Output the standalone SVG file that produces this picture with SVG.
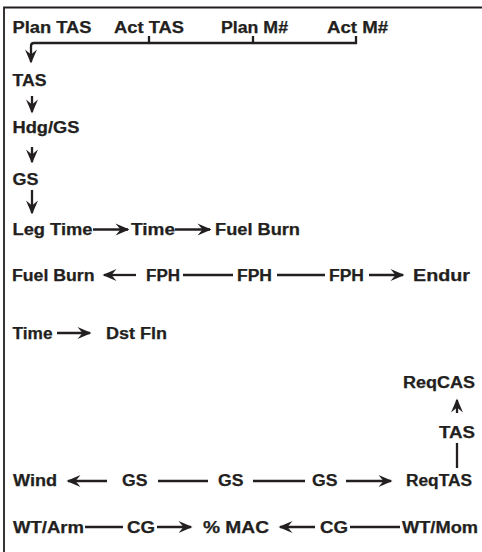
<svg xmlns="http://www.w3.org/2000/svg" width="482" height="552" viewBox="0 0 482 552">
<style>
text{font-family:"Liberation Sans",Arial,sans-serif;font-weight:bold;font-size:16px;fill:#231f20;stroke:#231f20;stroke-width:0.25}
.c{stroke:#231f20;stroke-width:2.3;fill:none}
.f{stroke:#231f20;stroke-width:1.8;fill:none}
</style>
<defs>
<marker id="ah" viewBox="-16 -7 17 14" refX="-1.5" refY="0" markerWidth="17" markerHeight="14" markerUnits="userSpaceOnUse" orient="auto">
<path d="M0,0 L-14,-6 L-9,0 L-14,6 Z" fill="#231f20"/>
</marker>
</defs>
<rect width="482" height="552" fill="#fff"/>
<g id="frame"><path class="f" d="M4,552 V7.5 H482"/></g>

<g id="n-plantas"><text x="12.5" y="33" textLength="79" lengthAdjust="spacingAndGlyphs">Plan TAS</text></g>
<g id="n-acttas"><text x="114" y="33" textLength="70" lengthAdjust="spacingAndGlyphs">Act TAS</text></g>
<g id="n-planm"><text x="221" y="33" textLength="67" lengthAdjust="spacingAndGlyphs">Plan M#</text></g>
<g id="n-actm"><text x="327" y="33" textLength="61" lengthAdjust="spacingAndGlyphs">Act M#</text></g>
<g id="n-tas"><text x="12.5" y="86" textLength="34" lengthAdjust="spacingAndGlyphs">TAS</text></g>
<g id="n-hdggs"><text x="12.5" y="133" textLength="67" lengthAdjust="spacingAndGlyphs">Hdg/GS</text></g>
<g id="n-gs"><text x="12.5" y="185" textLength="26" lengthAdjust="spacingAndGlyphs">GS</text></g>
<g id="n-legtime"><text x="12.5" y="235" textLength="80" lengthAdjust="spacingAndGlyphs">Leg Time</text></g>
<g id="n-time1"><text x="131" y="235" textLength="44" lengthAdjust="spacingAndGlyphs">Time</text></g>
<g id="n-fuelburn1"><text x="215" y="235" textLength="85" lengthAdjust="spacingAndGlyphs">Fuel Burn</text></g>

<g id="n-fuelburn2"><text x="12" y="281" textLength="82.5" lengthAdjust="spacingAndGlyphs">Fuel Burn</text></g>
<g id="n-fph1"><text x="146" y="281" textLength="34" lengthAdjust="spacingAndGlyphs">FPH</text></g>
<g id="n-fph2"><text x="237" y="281" textLength="35" lengthAdjust="spacingAndGlyphs">FPH</text></g>
<g id="n-fph3"><text x="329" y="281" textLength="35" lengthAdjust="spacingAndGlyphs">FPH</text></g>
<g id="n-endur"><text x="413" y="281" textLength="57" lengthAdjust="spacingAndGlyphs">Endur</text></g>

<g id="n-time2"><text x="12.5" y="339" textLength="40" lengthAdjust="spacingAndGlyphs">Time</text></g>
<g id="n-dstfln"><text x="106" y="339" textLength="61" lengthAdjust="spacingAndGlyphs">Dst Fln</text></g>

<g id="n-reqcas"><text x="403" y="388" textLength="72" lengthAdjust="spacingAndGlyphs">ReqCAS</text></g>
<g id="n-tas2"><text x="439" y="438" textLength="36" lengthAdjust="spacingAndGlyphs">TAS</text></g>

<g id="n-wind"><text x="13" y="486" textLength="44" lengthAdjust="spacingAndGlyphs">Wind</text></g>
<g id="n-gs1"><text x="122" y="486" textLength="25.5" lengthAdjust="spacingAndGlyphs">GS</text></g>
<g id="n-gs2"><text x="218" y="486" textLength="25.5" lengthAdjust="spacingAndGlyphs">GS</text></g>
<g id="n-gs3"><text x="312" y="486" textLength="25.5" lengthAdjust="spacingAndGlyphs">GS</text></g>
<g id="n-reqtas"><text x="406" y="486" textLength="66" lengthAdjust="spacingAndGlyphs">ReqTAS</text></g>

<g id="n-wtarm"><text x="13" y="533" textLength="71" lengthAdjust="spacingAndGlyphs">WT/Arm</text></g>
<g id="n-cg1"><text x="127" y="533" textLength="28" lengthAdjust="spacingAndGlyphs">CG</text></g>
<g id="n-mac"><text x="203" y="533" textLength="66" lengthAdjust="spacingAndGlyphs">% MAC</text></g>
<g id="n-cg2"><text x="320" y="533" textLength="28" lengthAdjust="spacingAndGlyphs">CG</text></g>
<g id="n-wtmom"><text x="402" y="533" textLength="76" lengthAdjust="spacingAndGlyphs">WT/Mom</text></g>

<g id="connectors">
<path class="c" d="M356,36 V43 H34 Q31,43 31,46 V62" marker-end="url(#ah)"/>
<path class="c" d="M149,36 V43"/>
<path class="c" d="M253,36 V43"/>
<path class="c" d="M32,96 V112" marker-end="url(#ah)"/>
<path class="c" d="M32,147 V162" marker-end="url(#ah)"/>
<path class="c" d="M32,190 V213" marker-end="url(#ah)"/>
<path class="c" d="M93,229.5 H128" marker-end="url(#ah)"/>
<path class="c" d="M175,229.5 H210" marker-end="url(#ah)"/>
<path class="c" d="M136,275 H104" marker-end="url(#ah)"/>
<path class="c" d="M183,275 H233"/>
<path class="c" d="M277,275 H325"/>
<path class="c" d="M369,275 H403" marker-end="url(#ah)"/>
<path class="c" d="M57,333 H90" marker-end="url(#ah)"/>
<path class="c" d="M457,413 V400" marker-end="url(#ah)"/>
<path class="c" d="M457,443 V468"/>
<path class="c" d="M107,481 H68" marker-end="url(#ah)"/>
<path class="c" d="M158,481 H208"/>
<path class="c" d="M253,481 H305"/>
<path class="c" d="M346,481 H391" marker-end="url(#ah)"/>
<path class="c" d="M85,527 H123"/>
<path class="c" d="M157,527 H191" marker-end="url(#ah)"/>
<path class="c" d="M315,527 H280" marker-end="url(#ah)"/>
<path class="c" d="M350,527 H400"/>
</g>
</svg>
